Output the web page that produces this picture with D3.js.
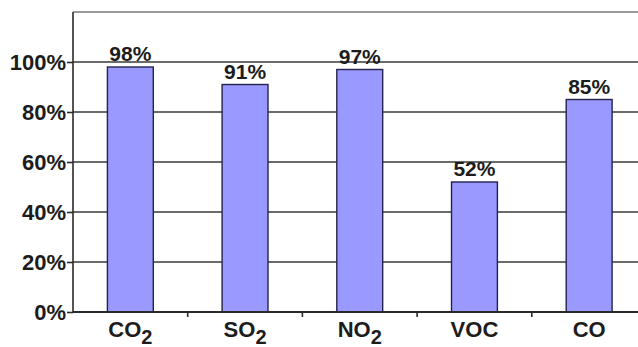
<!DOCTYPE html>
<html>
<head>
<meta charset="utf-8">
<script src="https://cdn.jsdelivr.net/npm/d3@7"></script>
<style>
  html, body { margin: 0; padding: 0; background: #fff; }
  svg { display: block; }
  text { font-family: "Liberation Sans", Arial, sans-serif; font-weight: bold; fill: #1c1c1c; }
</style>
</head>
<body>
<svg id="chart" width="638" height="347"></svg>
<script>
// Pollutant categories (main symbol + optional subscript)
const categories = ["CO2", "SO2", "NO2", "VOC", "CO"];
const labelMain = ["CO", "SO", "NO", "VOC", "CO"];
const labelSub = ["2", "2", "2", "", ""];
// Reduction share for each pollutant, in percent
const values = [98, 91, 97, 52, 85];
// Y axis tick values
const yTicks = [0, 20, 40, 60, 80, 100];

const svg = d3.select("#chart");
const plotLeft = 73, plotTop = 12, plotBottom = 312;
const plotRight = plotLeft + 5 * 114.7;

const y = d3.scaleLinear().domain([0, 120]).range([plotBottom, plotTop]);

// Category slots (axis boundaries) and the narrower bars centred in them
const slot = d3.scaleBand().domain(categories).range([plotLeft, plotRight]).padding(0);
const x = d3.scaleBand().domain(categories).range([plotLeft, plotRight])
  .paddingInner(0.6).paddingOuter(0.3);

// Top frame line
svg.append("line")
  .attr("x1", plotLeft).attr("x2", 638)
  .attr("y1", y(120)).attr("y2", y(120))
  .attr("stroke", "#777").attr("stroke-width", 1.3);

// Horizontal gridlines
svg.append("g").selectAll("line")
  .data(yTicks.filter(d => d > 0))
  .join("line")
  .attr("x1", plotLeft).attr("x2", 638)
  .attr("y1", d => y(d)).attr("y2", d => y(d))
  .attr("stroke", "#3a3a3a").attr("stroke-width", 1.6);

// Bars
svg.append("g").selectAll("rect")
  .data(values)
  .join("rect")
  .attr("x", (d, i) => x(categories[i]))
  .attr("width", x.bandwidth())
  .attr("y", d => y(d))
  .attr("height", d => y(0) - y(d))
  .attr("fill", "#9999ff")
  .attr("stroke", "#23234d")
  .attr("stroke-width", 1.4);

// Value labels above bars
svg.append("g").selectAll("text")
  .data(values)
  .join("text")
  .attr("x", (d, i) => x(categories[i]) + x.bandwidth() / 2)
  .attr("y", d => y(d) - 6)
  .attr("text-anchor", "middle")
  .attr("font-size", 21)
  .text(d => d + "%");

// Y axis
const yAxis = svg.append("g")
  .attr("transform", `translate(${plotLeft},0)`)
  .call(d3.axisLeft(y).tickValues(yTicks).tickSize(6).tickPadding(1)
    .tickFormat(d => d + "%"));
yAxis.select(".domain").remove();
yAxis.selectAll(".tick line").attr("stroke", "#2a2a2a").attr("stroke-width", 1.6);
yAxis.selectAll(".tick text").attr("font-size", 22).attr("dy", "0.36em")
  .style("font-family", "'Liberation Sans', Arial, sans-serif").style("font-weight", "bold").attr("fill", "#1c1c1c");

// Left axis line
svg.append("line")
  .attr("x1", plotLeft).attr("x2", plotLeft)
  .attr("y1", y(120)).attr("y2", y(0))
  .attr("stroke", "#2a2a2a").attr("stroke-width", 1.6);

// X axis baseline
svg.append("line")
  .attr("x1", plotLeft).attr("x2", 638)
  .attr("y1", y(0)).attr("y2", y(0))
  .attr("stroke", "#2a2a2a").attr("stroke-width", 1.8);

// Tick marks at category boundaries
svg.append("g").selectAll("line")
  .data(categories.slice(1))
  .join("line")
  .attr("x1", d => slot(d)).attr("x2", d => slot(d))
  .attr("y1", y(0)).attr("y2", y(0) + 5)
  .attr("stroke", "#2a2a2a").attr("stroke-width", 1.6);

// Category labels with subscripts
const labels = svg.append("g").selectAll("text")
  .data(categories)
  .join("text")
  .attr("x", d => slot(d) + slot.bandwidth() / 2)
  .attr("y", 337)
  .attr("text-anchor", "middle")
  .attr("font-size", 22);
labels.append("tspan").text((d, i) => labelMain[i]);
labels.append("tspan")
  .attr("dy", 7)
  .attr("font-size", 20)
  .text((d, i) => labelSub[i]);
</script>
</body>
</html>
